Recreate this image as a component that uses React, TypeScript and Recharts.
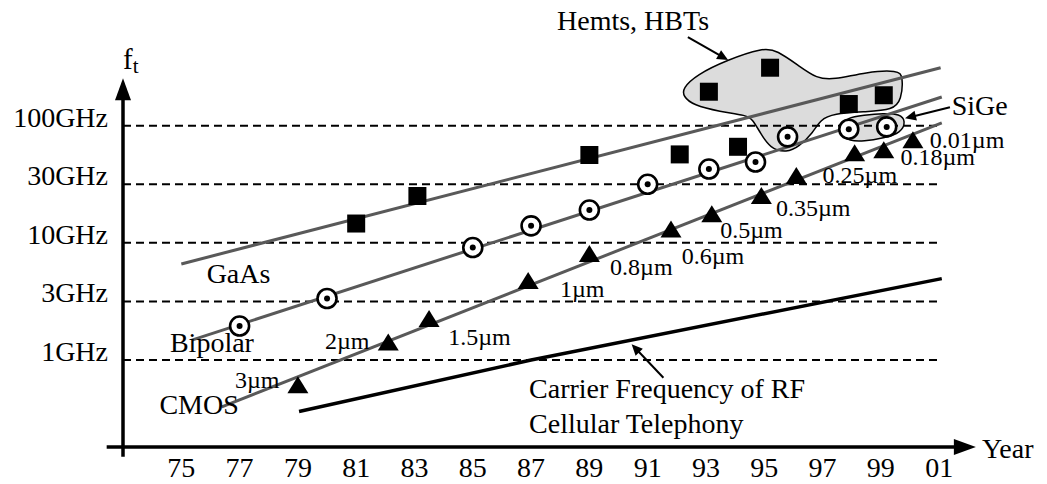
import React from "react";
import {
  ComposedChart,
  Line,
  ReferenceLine,
  Scatter,
  XAxis,
  YAxis,
} from "recharts";

const FONT = '"Liberation Serif", "Times New Roman", serif';

// x = year (101 means 2001), y = position on the ft scale (0 = 1GHz, 1 = 3GHz, ... 4 = 100GHz)
const X_MIN = 73;
const X_MAX = 104.7;
const Y_MIN = -1.485;
const Y_MAX = 6.146;

const yearTicks = [75, 77, 79, 81, 83, 85, 87, 89, 91, 93, 95, 97, 99, 101];
const freqTicks = [0, 1, 2, 3, 4];
const freqLabels = ["1GHz", "3GHz", "10GHz", "30GHz", "100GHz"];

// GaAs / HEMT / HBT devices (squares)
const gaasPoints = [
  { x: 81.0, y: 2.33 },
  { x: 83.1, y: 2.8 },
  { x: 89.0, y: 3.5 },
  { x: 92.1, y: 3.51 },
  { x: 94.1, y: 3.64 },
  { x: 93.1, y: 4.58 },
  { x: 95.2, y: 4.99 },
  { x: 97.9, y: 4.37 },
  { x: 99.1, y: 4.52 },
];

// bipolar / SiGe devices (ringed dots)
const bipolarPoints = [
  { x: 77.0, y: 0.58 },
  { x: 80.0, y: 1.05 },
  { x: 85.0, y: 1.92 },
  { x: 87.0, y: 2.29 },
  { x: 89.0, y: 2.56 },
  { x: 91.0, y: 3.0 },
  { x: 93.1, y: 3.26 },
  { x: 94.7, y: 3.38 },
  { x: 95.8, y: 3.81 },
  { x: 97.9, y: 3.94 },
  { x: 99.2, y: 3.98 },
];

// CMOS nodes (triangles)
const cmosPoints = [
  { x: 79.0, y: -0.43 },
  { x: 82.1, y: 0.3 },
  { x: 83.5, y: 0.7 },
  { x: 86.9, y: 1.35 },
  { x: 89.0, y: 1.81 },
  { x: 91.8, y: 2.23 },
  { x: 93.2, y: 2.49 },
  { x: 94.9, y: 2.8 },
  { x: 96.1, y: 3.14 },
  { x: 98.1, y: 3.53 },
  { x: 99.1, y: 3.58 },
  { x: 100.1, y: 3.75 },
];

const gaasTrend = [
  { x: 75.0, y: 1.64 },
  { x: 101.05, y: 4.99 },
];
const bipolarTrend = [
  { x: 75.36, y: 0.34 },
  { x: 101.09, y: 4.49 },
];
const cmosTrend = [
  { x: 76.39, y: -0.8 },
  { x: 101.09, y: 4.05 },
];
const carrierTrend = [
  { x: 79.04, y: -0.88 },
  { x: 87.0, y: 0.0 },
  { x: 101.09, y: 1.39 },
];

// outline of the Hemts/HBTs group
const hemtOutline = [
  { x: 92.2, y: 4.64 },
  { x: 92.68, y: 4.87 },
  { x: 93.71, y: 5.12 },
  { x: 94.96, y: 5.33 },
  { x: 95.43, y: 5.29 },
  { x: 96.22, y: 5.01 },
  { x: 96.8, y: 4.81 },
  { x: 97.36, y: 4.78 },
  { x: 98.51, y: 4.92 },
  { x: 99.6, y: 4.95 },
  { x: 99.76, y: 4.84 },
  { x: 99.71, y: 4.44 },
  { x: 99.41, y: 4.27 },
  { x: 98.51, y: 4.24 },
  { x: 97.36, y: 4.21 },
  { x: 96.92, y: 4.1 },
  { x: 96.67, y: 3.88 },
  { x: 96.19, y: 3.64 },
  { x: 95.77, y: 3.54 },
  { x: 95.2, y: 3.61 },
  { x: 94.86, y: 3.88 },
  { x: 94.61, y: 4.1 },
  { x: 94.4, y: 4.18 },
  { x: 93.48, y: 4.24 },
  { x: 92.56, y: 4.35 },
  { x: 92.22, y: 4.5 },
];

// outline of the SiGe pair
const sigeOutline = [
  { x: 97.66, y: 3.98 },
  { x: 97.83, y: 4.14 },
  { x: 98.41, y: 4.18 },
  { x: 99.1, y: 4.21 },
  { x: 99.65, y: 4.2 },
  { x: 99.86, y: 4.08 },
  { x: 99.69, y: 3.875 },
  { x: 99.1, y: 3.79 },
  { x: 98.41, y: 3.73 },
  { x: 97.91, y: 3.74 },
  { x: 97.66, y: 3.84 },
];

// feature size labels (anchor = left end of the baseline)
const nodeLabels = [
  { x: 76.84, y: -0.478, text: "3µm" },
  { x: 79.93, y: 0.188, text: "2µm" },
  { x: 84.16, y: 0.256, text: "1.5µm" },
  { x: 87.99, y: 1.081, text: "1µm" },
  { x: 89.71, y: 1.443, text: "0.8µm" },
  { x: 92.17, y: 1.639, text: "0.6µm" },
  { x: 93.49, y: 2.078, text: "0.5µm" },
  { x: 95.4, y: 2.458, text: "0.35µm" },
  { x: 97.0, y: 3.027, text: "0.25µm" },
  { x: 99.67, y: 3.321, text: "0.18µm" },
  { x: 100.68, y: 3.614, text: "0.01µm" },
];

const seriesLabels = [
  { x: 75.87, y: 1.309, text: "GaAs" },
  { x: 74.61, y: 0.142, text: "Bipolar" },
  { x: 74.25, y: -0.922, text: "CMOS" },
  { x: 101.43, y: 4.183, text: "SiGe" },
  { x: 87.89, y: 5.642, text: "Hemts, HBTs" },
  { x: 86.93, y: -0.649, text: "Carrier Frequency of RF" },
  { x: 86.93, y: -1.246, text: "Cellular Telephony" },
];

const pointers = [
  { from: { x: 91.54, y: -0.302 }, to: { x: 90.45, y: 0.268 } },
  { from: { x: 92.38, y: 5.514 }, to: { x: 93.76, y: 5.121 } },
  { from: { x: 101.37, y: 4.314 }, to: { x: 99.83, y: 4.126 } },
];

const arrow = (head: number, half: number, width: number, extra?: string) =>
  (p: any) => {
    const { x1, y1, x2, y2 } = p;
    const dx = x2 - x1;
    const dy = y2 - y1;
    const len = Math.hypot(dx, dy) || 1;
    const ux = dx / len;
    const uy = dy / len;
    const bx = x2 - ux * head;
    const by = y2 - uy * head;
    const pts = `${x2},${y2} ${bx - uy * half},${by + ux * half} ${bx + uy * half},${by - ux * half}`;
    return (
      <g>
        <line x1={x1} y1={y1} x2={bx + ux} y2={by + uy} stroke="#000" strokeWidth={width} />
        <polygon points={pts} fill="#000" />
        {extra && (
          <text x={x2 + 6} y={y2 + 11} fontSize={28} fontFamily={FONT} fill="#000">
            {extra}
          </text>
        )}
      </g>
    );
  };

const Square = (p: any) => (
  <rect x={p.cx - 9} y={p.cy - 9} width={18} height={18} fill="#000" />
);
const Ring = (p: any) => (
  <g>
    <circle cx={p.cx} cy={p.cy} r={9.5} fill="#fff" stroke="#000" strokeWidth={2.6} />
    <circle cx={p.cx} cy={p.cy} r={3} fill="#000" />
  </g>
);
const Tri = (p: any) => (
  <polygon
    points={`${p.cx},${p.cy - 9} ${p.cx - 10.5},${p.cy + 8} ${p.cx + 10.5},${p.cy + 8}`}
    fill="#000"
  />
);
const textShape = (size: number) => (p: any) => (
  <text x={p.cx} y={p.cy} fontSize={size} fontFamily={FONT} fill="#000">
    {p.payload.text}
  </text>
);

const FreqTick = (p: any) => (
  <text x={p.x} y={p.y + 1} textAnchor="end" fontSize={28} fontFamily={FONT} fill="#000">
    {freqLabels[freqTicks.indexOf(p.payload.value)]}
  </text>
);
const YearTick = (p: any) => (
  <text x={p.x} y={p.y + 30} textAnchor="middle" fontSize={28} fontFamily={FONT} fill="#000">
    {String(p.payload.value % 100).padStart(2, "0")}
  </text>
);

export default function App() {
  return (
    <div style={{ position: "absolute", left: 0, top: 0, background: "#fff" }}>
      <ComposedChart width={1047} height={484} margin={{ top: 0, right: 0, bottom: 0, left: 0 }}>
        <XAxis
          type="number"
          dataKey="x"
          domain={[X_MIN, X_MAX]}
          ticks={yearTicks}
          allowDataOverflow
          axisLine={false}
          tickLine={false}
          tickSize={0}
          tickMargin={0}
          height={37}
          tick={YearTick}
        />
        <YAxis
          type="number"
          dataKey="y"
          domain={[Y_MIN, Y_MAX]}
          ticks={freqTicks}
          allowDataOverflow
          axisLine={false}
          tickLine={false}
          tickSize={0}
          tickMargin={15}
          width={123}
          tick={FreqTick}
        />

        {/* grouped regions */}
        <Scatter
          data={hemtOutline}
          shape={() => <g />}
          line={{ fill: "#dcdcdc", stroke: "#000", strokeWidth: 1.5 }}
          lineType="joint"
          lineJointType="basisClosed"
          isAnimationActive={false}
          zIndex={-50}
        />
        <Scatter
          data={sigeOutline}
          shape={() => <g />}
          line={{ fill: "#dcdcdc", stroke: "#000", strokeWidth: 1.5 }}
          lineType="joint"
          lineJointType="basisClosed"
          isAnimationActive={false}
          zIndex={-50}
        />

        {freqTicks.map((l) => (
          <ReferenceLine
            key={l}
            segment={[{ x: X_MIN, y: l }, { x: 101.05, y: l }]}
            stroke="#000"
            strokeWidth={2}
            strokeDasharray="8 5"
            ifOverflow="visible"
          />
        ))}

        <Line data={gaasTrend} dataKey="y" type="linear" stroke="#595959" strokeWidth={3} dot={false} isAnimationActive={false} />
        <Line data={bipolarTrend} dataKey="y" type="linear" stroke="#595959" strokeWidth={3} dot={false} isAnimationActive={false} />
        <Line data={cmosTrend} dataKey="y" type="linear" stroke="#595959" strokeWidth={3} dot={false} isAnimationActive={false} />
        <Line data={carrierTrend} dataKey="y" type="linear" stroke="#000" strokeWidth={3.5} dot={false} isAnimationActive={false} />

        {/* axes with arrow heads */}
        <ReferenceLine
          segment={[{ x: 72.44, y: Y_MIN }, { x: 102.26, y: Y_MIN }]}
          ifOverflow="visible"
          shape={arrow(22, 8, 3.5, "Year")}
        />
        <ReferenceLine
          segment={[{ x: X_MIN, y: -1.651 }, { x: X_MIN, y: 4.812 }]}
          ifOverflow="visible"
          shape={arrow(22, 8, 3.5)}
        />
        {pointers.map((a, i) => (
          <ReferenceLine key={i} segment={[a.from, a.to]} ifOverflow="visible" shape={arrow(11, 5, 2)} />
        ))}

        <Scatter data={gaasPoints} shape={Square} isAnimationActive={false} />
        <Scatter data={bipolarPoints} shape={Ring} isAnimationActive={false} />
        <Scatter data={cmosPoints} shape={Tri} isAnimationActive={false} />

        <Scatter data={nodeLabels} shape={textShape(24)} isAnimationActive={false} />
        <Scatter data={seriesLabels} shape={textShape(28)} isAnimationActive={false} />
        <Scatter
          data={[{ x: X_MIN, y: 4.968, text: "f" }]}
          shape={(p: any) => (
            <text x={p.cx} y={p.cy} fontSize={29} fontFamily={FONT} fill="#000">
              {p.payload.text}
              <tspan fontSize={21} dy={4}>t</tspan>
            </text>
          )}
          isAnimationActive={false}
        />
      </ComposedChart>
    </div>
  );
}
